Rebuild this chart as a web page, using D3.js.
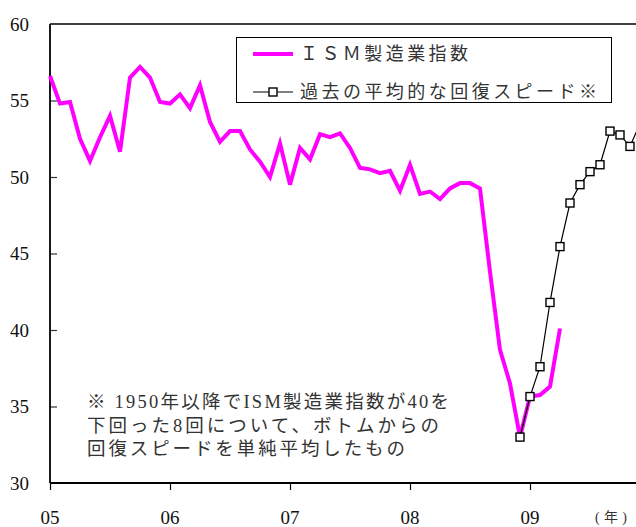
<!DOCTYPE html>
<html><head><meta charset="utf-8">
<script src="https://cdn.jsdelivr.net/npm/d3@7/dist/d3.min.js"></script>
<style>
html,body{margin:0;padding:0;background:#fff;overflow:hidden}
svg{display:block}
</style></head>
<body>
<svg id="chart" width="636" height="527"></svg>
<script>
// ---- data ----
// month index 0 = Jan 2005
const ismStart = 0;
const ismValues = [56.6,54.8,54.9,52.5,51.05,52.6,54.0,51.65,56.5,57.2,56.5,54.9,
  54.8,55.4,54.5,56.0,53.6,52.3,53.0,53.0,51.8,51.0,50.0,52.2,
  49.5,51.9,51.15,52.8,52.6,52.85,51.9,50.6,50.5,50.25,50.4,49.1,
  50.8,48.9,49.05,48.55,49.25,49.6,49.6,49.25,43.8,38.7,36.5,33.0,
  35.65,35.75,36.3,40.1];
const avgStart = 47; // Dec 2008
const avgValues = [33.0,35.65,37.6,41.8,45.45,48.3,49.5,50.35,50.8,53.0,52.75,52.0,53.5];
const yTicks = [30,35,40,45,50,55,60];
const xTickMonths = [0,12,24,36,48];
const xTickLabels = ["05","06","07","08","09"];
const legendLabels = ["ＩＳＭ製造業指数","過去の平均的な回復スピード※"];
const noteLines = ["※ 1950年以降でISM製造業指数が40を","下回った8回について、ボトムからの","回復スピードを単純平均したもの"];
const unitLabel = "(年)";

(function(){
const ism = ismValues.map((v,i)=>({m:ismStart+i,v}));
const avg = avgValues.map((v,i)=>({m:avgStart+i,v}));

const svg = d3.select("#chart");
const W = 636;
const pLeft = 50, pTop = 24, pBottom = 483;
const x = d3.scaleLinear().domain([0,48]).range([pLeft,530]);
const y = d3.scaleLinear().domain([30,60]).range([pBottom,pTop]);
const xMax = x(62);

const serif = "'Liberation Serif','Noto Sans CJK JP',serif";
const cjk = "'Liberation Serif','Noto Sans CJK JP',sans-serif";

// frame top line
svg.append("line").attr("x1",pLeft).attr("x2",xMax).attr("y1",pTop).attr("y2",pTop)
  .attr("stroke","#000").attr("stroke-width",1.5);

// y axis
const yAxis = svg.append("g").attr("transform",`translate(${pLeft},0)`)
  .call(d3.axisRight(y).tickValues(yTicks.filter(t=>t>30&&t<60)).tickSize(7).tickFormat(""));
yAxis.select(".domain").remove();
yAxis.selectAll(".tick line").attr("stroke","#333").attr("stroke-width",1.2);
svg.append("line").attr("x1",pLeft).attr("x2",pLeft).attr("y1",pTop).attr("y2",pBottom)
  .attr("stroke","#000").attr("stroke-width",1.8);
svg.append("g").selectAll("text").data(yTicks).join("text")
  .attr("x",29).attr("y",d=>y(d)).attr("dy","0.35em")
  .attr("text-anchor","end").attr("font-family",serif).attr("font-size",19)
  .attr("fill","#111").text(d=>d);

// x axis
const xAxis = svg.append("g").attr("transform",`translate(0,${pBottom})`)
  .call(d3.axisBottom(x).tickValues(xTickMonths).tickSize(7).tickFormat(""));
xAxis.select(".domain").remove();
xAxis.selectAll(".tick line").attr("stroke","#000").attr("stroke-width",1.2);
svg.append("line").attr("x1",pLeft).attr("x2",xMax).attr("y1",pBottom).attr("y2",pBottom)
  .attr("stroke","#000").attr("stroke-width",1.8);
svg.append("g").selectAll("text").data(xTickMonths).join("text")
  .attr("x",d=>x(d)).attr("y",517).attr("dy","0.35em")
  .attr("text-anchor","middle").attr("font-family",serif).attr("font-size",19)
  .attr("fill","#111").text((d,i)=>xTickLabels[i]);
svg.append("text").attr("x",595).attr("y",517).attr("dy","0.35em")
  .attr("font-family",cjk).attr("font-size",14).attr("fill","#333")
  .attr("textLength",32).attr("lengthAdjust","spacing").text(unitLabel);

// lines
const line = d3.line().x(d=>x(d.m)).y(d=>y(d.v));
svg.append("path").datum(ism).attr("d",line).attr("fill","none")
  .attr("stroke","#ff00ff").attr("stroke-width",4).attr("stroke-linejoin","miter");
svg.append("path").datum(avg).attr("d",line).attr("fill","none")
  .attr("stroke","#000").attr("stroke-width",1.2);
svg.append("g").selectAll("rect").data(avg.filter(d=>x(d.m)+4<W)).join("rect")
  .attr("x",d=>x(d.m)-4).attr("y",d=>y(d.v)-4).attr("width",8).attr("height",8)
  .attr("fill","#fff").attr("stroke","#000").attr("stroke-width",1.4);

// legend
const lg = svg.append("g");
lg.append("rect").attr("x",236.5).attr("y",37.5).attr("width",375).attr("height",65)
  .attr("fill","#fff").attr("stroke","#000").attr("stroke-width",1);
lg.append("line").attr("x1",253).attr("x2",293).attr("y1",54).attr("y2",54)
  .attr("stroke","#ff00ff").attr("stroke-width",4);
lg.append("line").attr("x1",253).attr("x2",293).attr("y1",92).attr("y2",92)
  .attr("stroke","#000").attr("stroke-width",1.2);
lg.append("rect").attr("x",269).attr("y",88).attr("width",8).attr("height",8)
  .attr("fill","#fff").attr("stroke","#000").attr("stroke-width",1.4);
const legW = [168, 297];
lg.selectAll("text.lab").data(legendLabels).join("text").attr("class","lab")
  .attr("x",300).attr("y",(d,i)=>i?92:54).attr("dy","0.36em")
  .attr("font-family",cjk).attr("font-size",18).attr("fill","#333")
  .attr("textLength",(d,i)=>legW[i]).attr("lengthAdjust","spacing").text(d=>d);

// note
const noteW = [362, 352, 318];
svg.append("g").selectAll("text").data(noteLines).join("text")
  .attr("x",87).attr("y",(d,i)=>[401,425,448][i]).attr("dy","0.36em")
  .attr("font-family",cjk).attr("font-size",18.5).attr("fill","#333")
  .attr("textLength",(d,i)=>noteW[i]).attr("lengthAdjust","spacing").text(d=>d);
})();
</script>
</body></html>
